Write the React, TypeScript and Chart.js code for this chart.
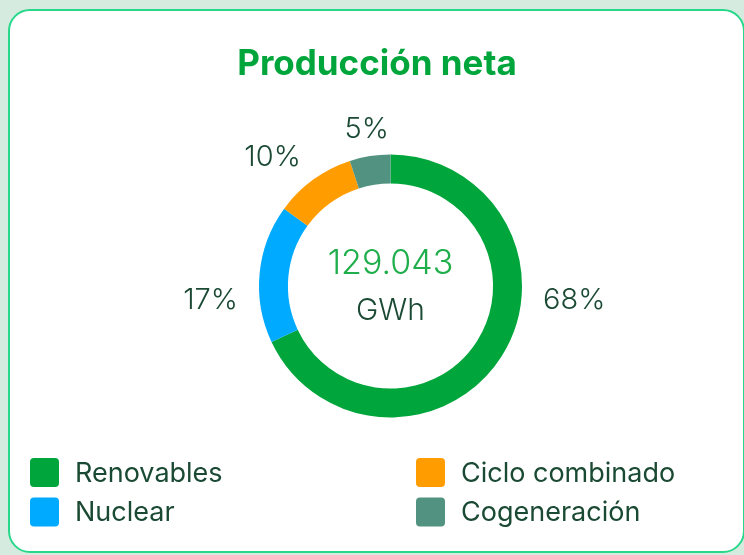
import React, { useEffect, useRef } from 'react';
import { Chart, registerables } from 'chart.js';

Chart.register(...registerables);

// ---- data ----
const titleText = 'Producción neta';
const categories = ['Renovables', 'Nuclear', 'Ciclo combinado', 'Cogeneración'];
const shares = [68, 17, 10, 5];
const segmentColors = ['#00a63c', '#00aaff', '#ff9d00', '#529280'];
const totalValue = '129.043';
const totalUnit = 'GWh';

// ---- styles ----
const TITLE_GREEN = '#00a63c';
const TOTAL_GREEN = '#1eae4b';
const DARK_TEXT = '#1b4a34';
const PAGE_BG = '#d6ebdf';
const CARD_BORDER = '#28d88a';
const FONT = 'Inter, "Open Sans", sans-serif';

const CANVAS_W = 754;
const CANVAS_H = 555;

function roundRect(ctx: CanvasRenderingContext2D, x: number, y: number, w: number, h: number, r: number) {
  ctx.beginPath();
  ctx.moveTo(x + r, y);
  ctx.lineTo(x + w - r, y);
  ctx.quadraticCurveTo(x + w, y, x + w, y + r);
  ctx.lineTo(x + w, y + h - r);
  ctx.quadraticCurveTo(x + w, y + h, x + w - r, y + h);
  ctx.lineTo(x + r, y + h);
  ctx.quadraticCurveTo(x, y + h, x, y + h - r);
  ctx.lineTo(x, y + r);
  ctx.quadraticCurveTo(x, y, x + r, y);
  ctx.closePath();
}

const decorPlugin = {
  id: 'decor',
  afterDraw(chart: any) {
    const ctx: CanvasRenderingContext2D = chart.ctx;
    const meta = chart.getDatasetMeta(0);
    const arcs = meta.data as any[];
    if (!arcs.length) return;
    const cx = arcs[0].x;
    const cy = arcs[0].y;
    const outer = arcs[0].outerRadius;

    ctx.save();

    // title
    ctx.fillStyle = TITLE_GREEN;
    ctx.font = `700 35px ${FONT}`;
    ctx.textAlign = 'center';
    ctx.textBaseline = 'middle';
    ctx.fillText(titleText, chart.width / 2, 64);

    // center total
    ctx.fillStyle = TOTAL_GREEN;
    ctx.font = `300 34px ${FONT}`;
    ctx.fillText(totalValue, cx, cy - 22);
    ctx.fillStyle = DARK_TEXT;
    ctx.font = `300 30px ${FONT}`;
    ctx.fillText(totalUnit, cx, cy + 25);

    // percent labels
    ctx.font = `300 29px ${FONT}`;
    ctx.fillStyle = DARK_TEXT;
    const data = chart.data.datasets[0].data as number[];
    const R = outer + 21;
    arcs.forEach((arc, i) => {
      const s = arc.startAngle;
      const e = arc.endAngle;
      let a = (s + e) / 2;
      const norm = (v: number) => ((v % (2 * Math.PI)) + 2 * Math.PI) % (2 * Math.PI);
      const contains = (t: number) => {
        const ns = norm(s);
        const span = e - s;
        const d = norm(t - ns);
        return d >= 0 && d <= span;
      };
      if (contains(0)) a = 0;
      else if (contains(Math.PI)) a = Math.PI;
      const dx = Math.cos(a);
      const dy = Math.sin(a);
      const ax = cx + dx * R;
      const ay = cy + dy * R;
      ctx.textAlign = dx > 0.3 ? 'left' : dx < -0.3 ? 'right' : 'center';
      ctx.textBaseline = dy < -0.3 ? 'alphabetic' : 'top';
      ctx.fillText(`${data[i]}%`, ax, ay + (dy < -0.3 ? 3 : 0));
    });

    // legend (two columns, column-major)
    const colX = [30, 416];
    const rowY = [472.5, 512];
    const box = 29;
    ctx.font = `400 27px ${FONT}`;
    ctx.textAlign = 'left';
    ctx.textBaseline = 'middle';
    categories.forEach((label, i) => {
      const col = Math.floor(i / 2);
      const row = i % 2;
      const x = colX[col];
      const y = rowY[row];
      ctx.fillStyle = segmentColors[i];
      roundRect(ctx, x, y - box / 2, box, box, 4);
      ctx.fill();
      ctx.fillStyle = DARK_TEXT;
      ctx.fillText(label, x + box + 16, y + 1);
    });

    ctx.restore();
  },
};

export default function App() {
  const canvasRef = useRef<HTMLCanvasElement | null>(null);

  useEffect(() => {
    const canvas = canvasRef.current;
    if (!canvas) return;
    const chart = new Chart(canvas, {
      type: 'doughnut',
      data: {
        labels: categories,
        datasets: [
          {
            data: shares,
            backgroundColor: segmentColors,
            borderWidth: 0,
            hoverOffset: 0,
          },
        ],
      },
      options: {
        responsive: false,
        maintainAspectRatio: false,
        animation: false,
        cutout: '78%',
        layout: {
          padding: { left: 190.5, right: 163.5, top: 154.5, bottom: 137.5 },
        },
        plugins: {
          legend: { display: false },
          tooltip: { enabled: false },
          title: { display: false },
        },
      } as any,
      plugins: [decorPlugin],
    });
    return () => chart.destroy();
  }, []);

  return (
    <div
      style={{
        position: 'fixed',
        left: 0,
        top: 0,
        width: 744,
        height: 555,
        overflow: 'hidden',
        background: PAGE_BG,
      }}
    >
      <div
        style={{
          position: 'absolute',
          left: 8,
          top: 9,
          width: 737,
          height: 544,
          boxSizing: 'border-box',
          border: `2px solid ${CARD_BORDER}`,
          borderRadius: 22,
          background: '#ffffff',
        }}
      />
      <canvas
        ref={canvasRef}
        width={CANVAS_W}
        height={CANVAS_H}
        style={{ position: 'absolute', left: 0, top: 0, width: CANVAS_W, height: CANVAS_H }}
      />
    </div>
  );
}
